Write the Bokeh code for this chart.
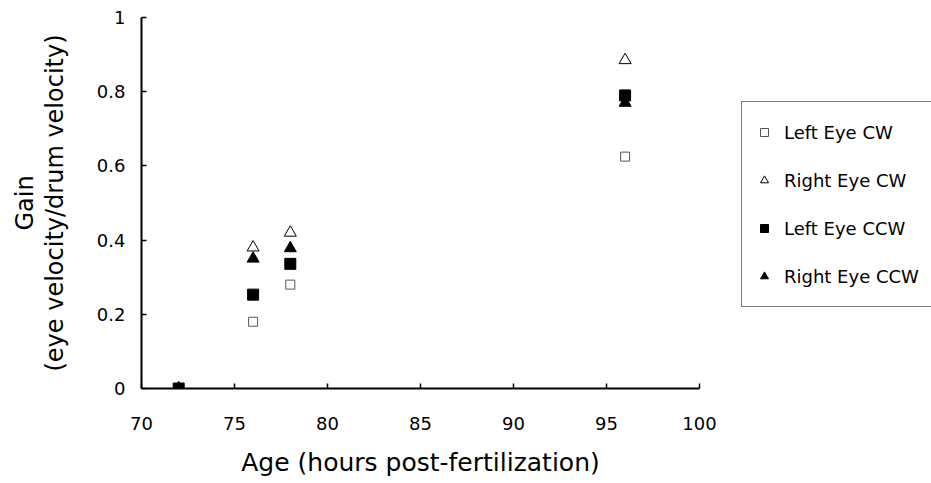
from bokeh.plotting import figure
from bokeh.models import Range1d, FixedTicker, Legend, LegendItem, ColumnDataSource
from bokeh.embed import file_html
from bokeh.resources import INLINE

# ---- data ----
ages = [72, 76, 78, 96]
left_eye_cw = [0.0, 0.18, 0.28, 0.625]
right_eye_cw = [0.0, 0.38, 0.42, 0.885]
left_eye_ccw = [0.0, 0.253, 0.336, 0.79]
right_eye_ccw = [0.0, 0.35, 0.378, 0.77]

x_ticks = [70, 75, 80, 85, 90, 95, 100]
y_ticks = [0, 0.2, 0.4, 0.6, 0.8, 1.0]
y_tick_labels = ["0", "0.2", "0.4", "0.6", "0.8", "1"]

FONT = "DejaVu Sans"

p = figure(frame_width=558, frame_height=371,
           min_border_left=141, min_border_right=232,
           min_border_top=17, min_border_bottom=95,
           x_range=Range1d(70, 100), y_range=Range1d(0, 1),
           output_backend="svg", toolbar_location=None)
p.outline_line_color = None
p.xgrid.visible = False
p.ygrid.visible = False
p.background_fill_color = "white"
p.border_fill_color = "white"

for ax in (p.xaxis[0], p.yaxis[0]):
    ax.axis_line_color = "black"
    ax.axis_line_width = 2
    ax.major_tick_in = 5
    ax.major_tick_out = 0
    ax.major_tick_line_color = "black"
    ax.major_tick_line_width = 1.5
    ax.minor_tick_line_color = None
    ax.major_label_text_font = FONT
    ax.major_label_text_font_size = "18px"
    ax.major_label_text_color = "black"
    ax.axis_label_text_font = FONT
    ax.axis_label_text_font_style = "normal"
    ax.axis_label_text_color = "black"

p.xaxis.ticker = FixedTicker(ticks=x_ticks)
p.yaxis.ticker = FixedTicker(ticks=y_ticks)
p.yaxis.major_label_overrides = {t: l for t, l in zip(y_ticks, y_tick_labels)}

p.xaxis.axis_label = "Age (hours post-fertilization)"
p.xaxis.axis_label_text_font_size = "25px"
p.xaxis.major_label_standoff = 28
p.xaxis.axis_label_standoff = 15

p.yaxis.axis_label = "Gain\n(eye velocity/drum velocity)"
p.yaxis.axis_label_text_font_size = "24px"
p.yaxis.axis_label_text_line_height = 1.05
p.yaxis.major_label_standoff = 16
p.yaxis.axis_label_standoff = 25

src = ColumnDataSource(dict(x=ages, lcw=left_eye_cw, rcw=right_eye_cw,
                            lccw=left_eye_ccw, rccw=right_eye_ccw))

r1 = p.scatter("x", "lcw", source=src, marker="square", size=9,
               fill_color="white", line_color="#555555", line_width=1)
r2 = p.scatter("x", "rcw", source=src, marker="triangle", size=12,
               fill_color="white", line_color="black", line_width=1)
r4 = p.scatter("x", "rccw", source=src, marker="triangle", size=12,
               fill_color="black", line_color="black")
r3 = p.scatter("x", "lccw", source=src, marker="square", size=11,
               fill_color="black", line_color="black")

legend = Legend(items=[
    LegendItem(label="Left Eye CW", renderers=[r1]),
    LegendItem(label="Right Eye CW", renderers=[r2]),
    LegendItem(label="Left Eye CCW", renderers=[r3]),
    LegendItem(label="Right Eye CCW", renderers=[r4]),
], location=(42, 81))
legend.padding = 12
legend.glyph_width = 20
legend.glyph_height = 36
legend.label_height = 36
legend.label_width = 180
legend.label_standoff = 10
legend.spacing = 12
legend.margin = 0
legend.label_text_font = FONT
legend.label_text_font_size = "18px"
legend.label_text_color = "black"
legend.border_line_color = "black"
legend.border_line_width = 1.5
legend.background_fill_color = "white"
legend.background_fill_alpha = 1
p.add_layout(legend, "right")

open("out.html", "w").write(file_html(p, INLINE))
